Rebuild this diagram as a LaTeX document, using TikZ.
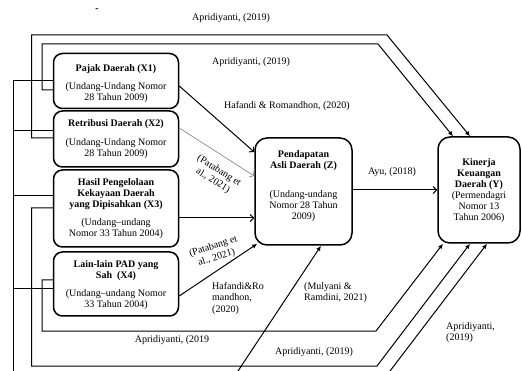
\documentclass[tikz,border=0pt]{standalone}
\usepackage{fontspec}
\setmainfont{Liberation Serif}
\usetikzlibrary{arrows.meta}
\begin{document}
\begin{tikzpicture}[x=1pt,y=-1pt,
  box/.style={draw,line width=1.5pt,rounded corners=9pt,inner sep=0pt},
  txt/.style={font=\fontsize{10}{11}\selectfont,align=center,inner sep=0pt},
  lbl/.style={font=\fontsize{10}{11.5}\selectfont,inner sep=0pt},
  lbll/.style={lbl,align=left,anchor=north west},
  conn/.style={line width=1pt},
  arr/.style={conn,-{Latex[length=5pt,width=4.5pt]}},
  barb/.style={conn,-{Straight Barb[length=3.5pt,width=7pt]}}]
\useasboundingbox (0,0) rectangle (522,371);
% boxes
\node[box,minimum width=125pt,minimum height=55pt] (X1) at (116,81) {};
\node[box,minimum width=125pt,minimum height=56pt] (X2) at (116,139) {};
\node[box,minimum width=125pt,minimum height=77pt] (X3) at (116,208.5) {};
\node[box,minimum width=125pt,minimum height=64pt] (X4) at (116,284) {};
\node[box,minimum width=97pt,minimum height=107pt,rounded corners=12pt] (Z) at (303.5,191.5) {};
\node[box,minimum width=82pt,minimum height=106pt,rounded corners=12pt] (Y) at (479,190) {};
% box texts
\node[txt] (X1t) at (116,83.5) {\textbf{Pajak Daerah (X1)}\\[7pt](Undang-Undang Nomor\\28 Tahun 2009)};
\node[txt] (X2t) at (116,139.5) {\textbf{Retribusi Daerah (X2)}\\[8pt](Undang-Undang Nomor\\28 Tahun 2009)};
\node[txt] (X3t) at (116,208.5) {\textbf{Hasil Pengelolaan}\\\textbf{Kekayaan Daerah}\\\textbf{yang Dipisahkan (X3)}\\[7pt](Undang--undang\\Nomor 33 Tahun 2004)};
\node[txt] (X4t) at (116,285) {\textbf{Lain-lain PAD yang}\\\textbf{Sah\ \ (X4)}\\[7pt](Undang--undang Nomor\\33 Tahun 2004)};
\node[txt] (Zt) at (303.5,186.5) {\textbf{Pendapatan}\\\textbf{Asli Daerah (Z)}\\[18pt](Undang-undang\\Nomor 28 Tahun\\2009)};
\node[txt] (Yt) at (479,190.5) {\textbf{Kinerja}\\\textbf{Keuangan}\\\textbf{Daerah (Y)}\\(Permendagri\\Nomor 13\\Tahun 2006)};
% free ends at the bottom edge
\coordinate (busend) at (13,371);
\coordinate (mstart) at (238,371);
\coordinate (astart) at (390,371);
% routes around to Y
\draw[arr] (X2.west |- 0,138) -- (31.5,138) -- (31.5,35) -- (387,35) -- (Y.north -| 470,0);
\draw[arr] (X1.west |- 0,90) -- (42,90) -- (42,44) -- (378,44) -- (Y.north -| 453,0);
\draw[arr] (X3.west |- 0,208) -- (31.5,208) -- (31.5,366) -- (377,366) -- (Y.south -| 470,0);
\draw[arr] (X4.west |- 0,280) -- (42,280) -- (42,331) -- (376,331) -- (Y.south -| 443,0);
% left bus
\draw[conn] (X1.west |- 0,81) -- (13,81) -- (busend);
\draw[conn] (X2.west |- 0,131) -- (13,131);
\draw[conn] (X3.west |- 0,196) -- (13,196);
\draw[conn] (X4.west |- 0,289) -- (13,289);
% bottom diagonals
\draw[arr] (mstart) -- (Z.south -| 321,0);
\draw[arr] (astart) -- (Y.south -| 487,0);
% X to Z
\draw[barb] (X1.east |- 0,86) -- (Z.west |- 0,152);
\draw[barb,line width=0.6pt,gray] (X2.east |- 0,128) -- (Z.west |- 0,176);
\draw[barb] (X3.east |- 0,218) -- (Z.west |- 0,218);
\draw[arr] (X4.east |- 0,296) -- ([xshift=3pt,yshift=2pt]Z.south west);
% Z to Y
\draw[barb] (Z.east |- 0,190) -- (Y.west |- 0,190);
% labels
\node[lbl] (dash) at (97,10) {\textbf{-}};
\node[lbl] (l1) at (231,18) {Apridiyanti, (2019)};
\node[lbl] (l2) at (251,62) {Apridiyanti, (2019)};
\node[lbl] (l3) at (287,106) {Hafandi \& Romandhon, (2020)};
\node[lbl,align=center,rotate=-32] (l4) at (216,176) {(Patabang et\\al., 2021)};
\node[lbl,align=center,rotate=17] (l5) at (215,252) {(Patabang et\\al., 2021)};
\node[lbl] (l6) at (392,172) {Ayu, (2018)};
\node[lbll] (l7) at (212,282) {Hafandi\&Ro\\mandhon,\\(2020)};
\node[lbll] (l8) at (304,282) {(Mulyani \&\\Ramdini, 2021)};
\node[lbl] (l9) at (172,340) {Apridiyanti, (2019};
\node[lbl] (l10) at (314,352) {Apridiyanti, (2019)};
\node[lbll] (l11) at (446,322) {Apridiyanti,\\(2019)};
\end{tikzpicture}
\end{document}
